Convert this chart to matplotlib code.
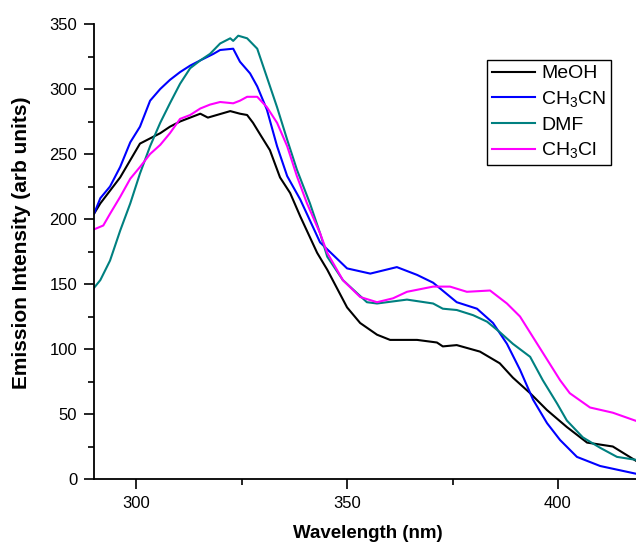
import matplotlib
matplotlib.use("Agg")
import matplotlib.pyplot as plt
from matplotlib.ticker import MultipleLocator

plt.rcParams['font.family'] = ['Liberation Sans', 'DejaVu Sans']
plt.rcParams['mathtext.fontset'] = 'custom'
plt.rcParams['mathtext.rm'] = 'Liberation Sans'
plt.rcParams['mathtext.it'] = 'Liberation Sans:italic'
plt.rcParams['mathtext.bf'] = 'Liberation Sans:bold'

# ---- data ----
meoh_x = [290, 291.5, 296.2, 300.9, 305.7, 308, 310.4, 315.2, 317, 322.3, 324.6, 326.3, 327.7,
          329.4, 331.7, 334.1, 336.5, 338.9, 342.9, 345.3, 350, 353.1, 357.1, 360.2, 366.6,
          371.3, 372.7, 376, 381.5, 386.2, 389.3, 393.4, 397.4, 402.1, 406.9, 413, 420]
meoh_y = [204, 212, 232, 258, 266, 271, 275, 281, 278, 283, 281, 280, 274,
          265, 253, 232, 220, 202, 174, 161, 132, 120, 111, 107, 107,
          105, 102, 103, 98, 89, 78, 66, 53, 40, 28, 25, 11]

ch3cn_x = [290, 291.5, 293.8, 296.2, 298.6, 300.9, 303.3, 305.7, 308, 310.4, 312.8, 315.2, 318.3,
           319.9, 323, 324.6, 327, 328.7, 331, 333.4, 335.8, 338.9, 343.6, 350, 355.5, 361.8,
           366.6, 370.4, 376, 380.8, 384.6, 387.9, 391, 394.1, 397.4, 400.5, 404.5, 410, 420]
ch3cn_y = [204, 216, 225, 240, 259, 271, 291, 300, 307, 313, 318, 322, 327,
           330, 331, 321, 312, 302, 284, 256, 233, 215, 182, 162, 158, 163,
           157, 151, 136, 131, 120, 104, 84, 61, 43, 30, 17, 10, 3]

dmf_x = [290, 291.5, 293.8, 296.2, 298.6, 300.9, 303.3, 305.7, 308, 310.4, 312.8, 315.2, 317.5,
         319.9, 322.3, 323, 324.2, 326.3, 328.7, 331, 333.4, 335.8, 338.1, 341.2, 343.6, 345.3,
         349, 354.7, 357.1, 364.2, 370.4, 372.7, 376, 379.9, 383.2, 386.2, 389.3, 393.4, 396.4,
         399.8, 402.1, 405.9, 410, 414, 420]
dmf_y = [147, 153, 168, 191, 212, 235, 256, 274, 289, 304, 316, 322, 327,
         335, 339, 337, 341, 339, 331, 309, 286, 261, 238, 212, 189, 171,
         153, 136, 135, 138, 135, 131, 130, 126, 121, 113, 104, 94, 76,
         58, 45, 32, 24, 17, 14]

chcl_x = [290, 292.2, 293.8, 296.2, 298.6, 300.9, 303.3, 305.7, 308, 310.4, 312.8, 315.2, 317.5,
          319.9, 323, 324.6, 326.3, 328.7, 331, 333.4, 335.8, 338.1, 340.5, 343.6, 345.3, 349,
          353.1, 357.1, 360.9, 364.2, 370.4, 374.4, 378.4, 383.9, 387.9, 391, 394.1, 397.4,
          400.5, 402.8, 407.6, 413, 420]
chcl_y = [192, 195, 204, 217, 231, 240, 250, 257, 266, 277, 280, 285, 288,
          290, 289, 291, 294, 294, 286, 274, 256, 233, 212, 189, 174, 153,
          140, 136, 139, 144, 148, 148, 144, 145, 135, 125, 109, 92,
          76, 66, 55, 51, 43]

series = [
    ("MeOH", meoh_x, meoh_y, "black"),
    ("CH$_3$CN", ch3cn_x, ch3cn_y, "#0000ff"),
    ("DMF", dmf_x, dmf_y, "#008080"),
    ("CH$_3$Cl", chcl_x, chcl_y, "#ff00ff"),
]

fig = plt.figure(figsize=(6.36, 5.43), dpi=100)
ax = fig.add_axes([94/636, 64/543, 1 - 94/636, (479-24)/543])

for label, xs, ys, c in series:
    ax.plot(xs, ys, color=c, lw=1.5, label=label)

ax.set_xlim(290, 418.5)
ax.set_ylim(0, 350)
ax.xaxis.set_major_locator(MultipleLocator(50))
ax.xaxis.set_minor_locator(MultipleLocator(25))
ax.yaxis.set_major_locator(MultipleLocator(50))
ax.yaxis.set_minor_locator(MultipleLocator(25))
ax.tick_params(which='major', direction='out', length=7, width=1.2, labelsize=12, pad=5)
ax.tick_params(which='minor', direction='out', length=4, width=1.2)
ax.spines['top'].set_visible(False)
ax.spines['right'].set_visible(False)
ax.spines['left'].set_linewidth(1.3)
ax.spines['bottom'].set_linewidth(1.3)

ax.set_xlabel("Wavelength (nm)", fontsize=13.5, fontweight='bold', va='center')
ax.xaxis.set_label_coords((368 - 94) / 542, -(533 - 479) / 455)
ax.set_ylabel("Emission Intensity (arb units)", fontsize=15, fontweight='bold', va='center')
ax.yaxis.set_label_coords(-(94 - 22) / 542, (479 - 243) / 455)

leg = ax.legend(loc='upper left', bbox_to_anchor=((487-94)/542, (479-60)/455),
                fontsize=14, frameon=True, fancybox=False, framealpha=1,
                edgecolor='black', borderpad=0.25, labelspacing=0.35,
                handlelength=2.2, handletextpad=0.35, borderaxespad=0)
leg.get_frame().set_linewidth(1.0)

fig.savefig("out.png", dpi=100)
